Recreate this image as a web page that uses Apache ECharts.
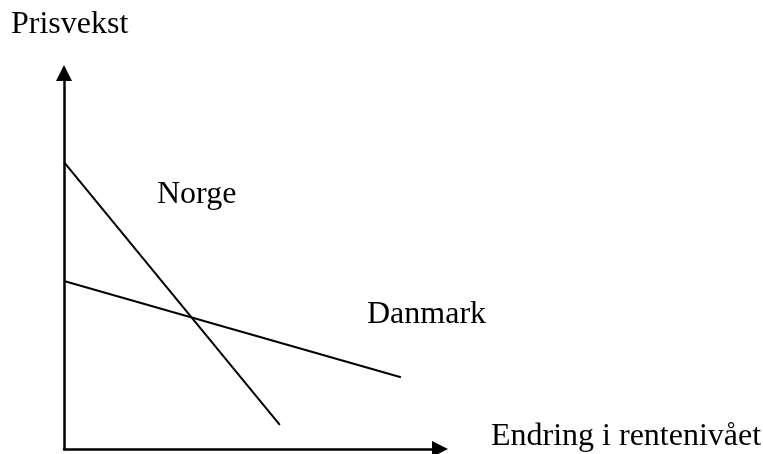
<!DOCTYPE html>
<html>
<head>
<meta charset="utf-8">
<script src="https://cdn.jsdelivr.net/npm/echarts@6/dist/echarts.min.js"></script>
<style>
    html, body { margin: 0; padding: 0; background: #fff; }
    #chart { width: 763px; height: 454px; }
</style>
</head>
<body>
<div id="chart"></div>
<script>
// 数据 (0-100 on both axes)
const seriesNames = ['Norge', 'Danmark'];
const norgeData = [[0, 76.3], [57.4, 6.4]];
const danmarkData = [[0, 44.7], [89.6, 19.1]];
const xAxisName = 'Endring i rentenivået';
const yAxisName = 'Prisvekst';

const font = '32px "Liberation Serif", "Times New Roman", serif';

function label(text, x, baseline) {
    return {
        type: 'text',
        left: x,
        top: baseline - 23,
        style: {
            text: text,
            font: font,
            fill: '#000'
        }
    };
}

const axisStyle = {
    type: 'value',
    min: 0,
    max: 100,
    axisLine: {
        show: true,
        symbol: ['none', 'triangle'],
        symbolSize: [16, 16],
        lineStyle: { color: '#000', width: 2.5 }
    },
    axisTick: { show: false },
    axisLabel: { show: false },
    splitLine: { show: false }
};

const option = {
    animation: false,
    backgroundColor: '#fff',
    grid: {
        left: 64,
        top: 73,
        right: 323,
        bottom: 5
    },
    xAxis: Object.assign({}, axisStyle),
    yAxis: Object.assign({}, axisStyle),
    series: [
        {
            name: seriesNames[0],
            type: 'line',
            data: norgeData,
            showSymbol: false,
            lineStyle: { color: '#000', width: 2 }
        },
        {
            name: seriesNames[1],
            type: 'line',
            data: danmarkData,
            showSymbol: false,
            lineStyle: { color: '#000', width: 2 }
        }
    ],
    graphic: [
        label(yAxisName, 11, 32),
        label(seriesNames[0], 157, 202),
        label(seriesNames[1], 367, 322),
        label(xAxisName, 491, 444)
    ]
};

const chart = echarts.init(document.getElementById('chart'));
chart.setOption(option);
</script>
</body>
</html>
